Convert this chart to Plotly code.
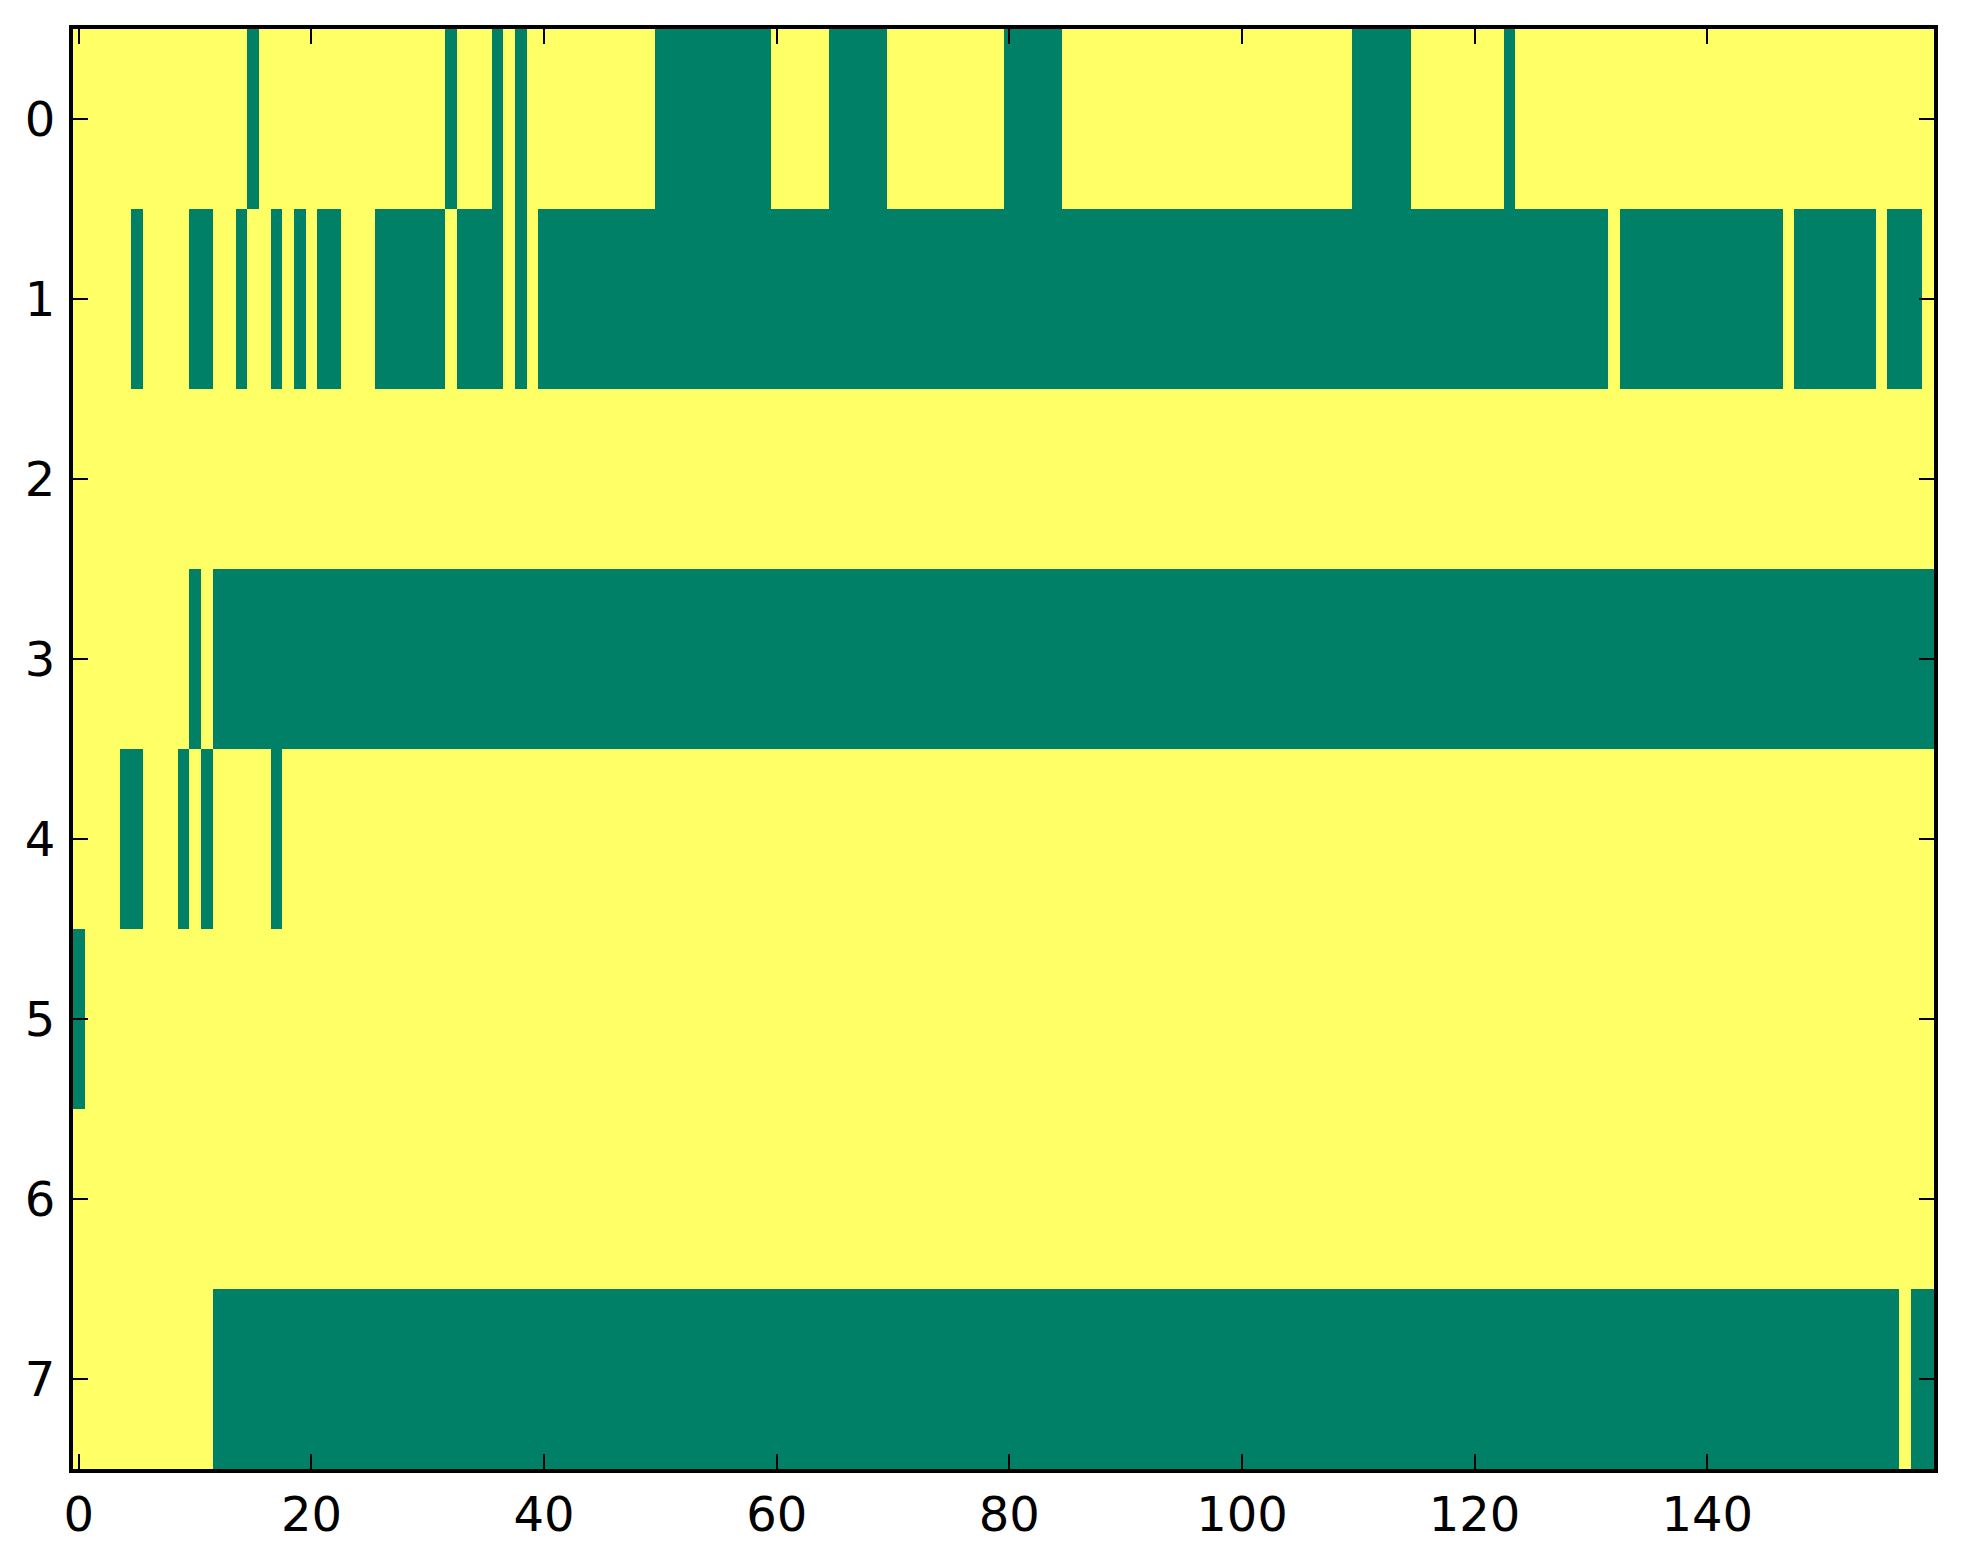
import numpy as np
import plotly.graph_objects as go

# each row is run lengths, alternating 1 (yellow) then 0 (green), starting with 1
n_cols = 160
row_runs = [
    [15, 1, 16, 1, 3, 1, 1, 1, 11, 10, 5, 5, 10, 5, 25, 5, 8, 1, 36],
    [5, 1, 4, 2, 2, 1, 2, 1, 1, 1, 1, 2, 3, 6, 1, 4, 1, 1, 1, 92, 1, 14, 1, 7, 1, 3, 1],
    [160],
    [10, 1, 1, 148],
    [4, 2, 3, 1, 1, 1, 5, 1, 142],
    [0, 1, 159],
    [160],
    [12, 145, 1, 2],
]
x_ticks = [0, 20, 40, 60, 80, 100, 120, 140]
y_ticks = [0, 1, 2, 3, 4, 5, 6, 7]

z = []
for runs in row_runs:
    row = []
    val = 1
    for r in runs:
        row += [val] * r
        val = 1 - val
    z.append(row)
z = np.array(z)

fig = go.Figure()
fig.add_trace(go.Heatmap(
    z=z, x=list(range(n_cols)), y=y_ticks,
    colorscale=[[0, '#008066'], [1, '#ffff66']],
    zmin=0, zmax=1, showscale=False, hoverinfo='skip'))

axis_style = dict(
    showline=True, linecolor='black', linewidth=4, mirror='ticks',
    ticks='inside', ticklen=15, tickwidth=2, tickcolor='black',
    showgrid=False, zeroline=False,
)
fig.update_xaxes(range=[-0.5, n_cols - 0.5], tickvals=x_ticks,
                 ticklabelstandoff=0, **axis_style)
fig.update_yaxes(range=[7.5, -0.5], tickvals=y_ticks,
                 ticklabelstandoff=4, **axis_style)

fig.update_layout(
    width=1963, height=1564,
    margin=dict(l=73, r=29, t=29, b=95),
    plot_bgcolor='white', paper_bgcolor='white',
    font=dict(family='DejaVu Sans', size=48, color='black'),
)

fig.write_html("out.html", config={'displayModeBar': False},
               post_script="document.body.style.margin='0';")
